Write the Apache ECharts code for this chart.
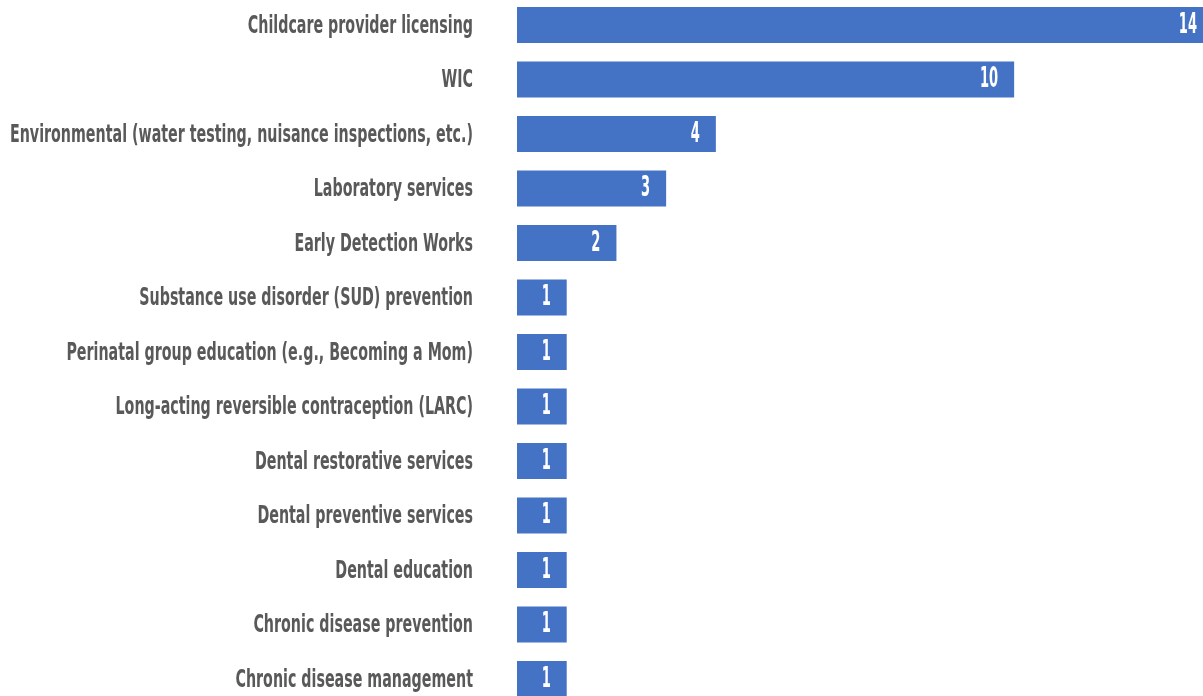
<!DOCTYPE html>
<html>
<head>
<meta charset="utf-8">
<script src="https://cdn.jsdelivr.net/npm/echarts@6/dist/echarts.min.js"></script>
<style>
  html, body { margin: 0; padding: 0; background: #ffffff; }
  #chart { width: 1203px; height: 696px; }
</style>
</head>
<body>
<div id="chart"></div>
<script>
// Services offered, with number of responses per service
const categories = [
  'Childcare provider licensing',
  'WIC',
  'Environmental (water testing, nuisance inspections, etc.)',
  'Laboratory services',
  'Early Detection Works',
  'Substance use disorder (SUD) prevention',
  'Perinatal group education (e.g., Becoming a Mom)',
  'Long-acting reversible contraception (LARC)',
  'Dental restorative services',
  'Dental preventive services',
  'Dental education',
  'Chronic disease prevention',
  'Chronic disease management'
];
const counts = [14, 10, 4, 3, 2, 1, 1, 1, 1, 1, 1, 1, 1];

// Condensed look: a bold face squeezed horizontally
const FONT_FAMILY = '"DejaVu Sans Condensed", "DejaVu Sans", sans-serif';
const CAT_FONT = 'bold 25px ' + FONT_FAMILY;
const CAT_SCALE = 0.634;
const VAL_FONT = 'bold 29px ' + FONT_FAMILY;
const VAL_SCALE = 0.5;
const CAT_GAP = 44;   // space between category text and bar start
const VAL_PAD = 16;   // inset of value text from the bar end

const chart = echarts.init(document.getElementById('chart'));
chart.setOption({
  animation: false,
  grid: {
    left: 517, right: -10, top: -2.25, bottom: -10.25,
    containLabel: false,
    outerBoundsMode: 'none'
  },
  xAxis: { type: 'value', min: 0, max: 14, show: false },
  yAxis: {
    type: 'category',
    data: categories,
    inverse: true,
    axisLine: { show: false },
    axisTick: { show: false },
    splitLine: { show: false },
    axisLabel: { show: false }
  },
  series: [
    {
      type: 'bar',
      data: counts,
      barCategoryGap: '34%',
      clip: false,
      z: 2,
      itemStyle: { color: '#4472C4' }
    },
    {
      // category names, right-aligned left of the bars
      type: 'custom',
      clip: false,
      silent: true,
      z: 3,
      data: categories.map((c, i) => [0, i]),
      encode: { x: 0, y: 1 },
      renderItem(params, api) {
        const idx = api.value(1);
        const p = api.coord([0, idx]);
        return {
          type: 'text',
          x: p[0] - CAT_GAP,
          y: p[1] + 1,
          scaleX: CAT_SCALE,
          style: {
            text: categories[idx],
            font: CAT_FONT,
            fill: '#595959',
            align: 'right',
            verticalAlign: 'middle'
          }
        };
      }
    },
    {
      // value text inside the end of each bar
      type: 'custom',
      clip: false,
      silent: true,
      z: 10,
      data: counts.map((v, i) => [v, i]),
      encode: { x: 0, y: 1 },
      renderItem(params, api) {
        const v = api.value(0);
        const p = api.coord([v, api.value(1)]);
        return {
          type: 'text',
          x: p[0] - VAL_PAD,
          y: p[1],
          z2: 100,
          scaleX: VAL_SCALE,
          style: {
            text: String(v),
            font: VAL_FONT,
            fill: '#ffffff',
            align: 'right',
            verticalAlign: 'middle'
          }
        };
      }
    }
  ]
});
</script>
</body>
</html>
